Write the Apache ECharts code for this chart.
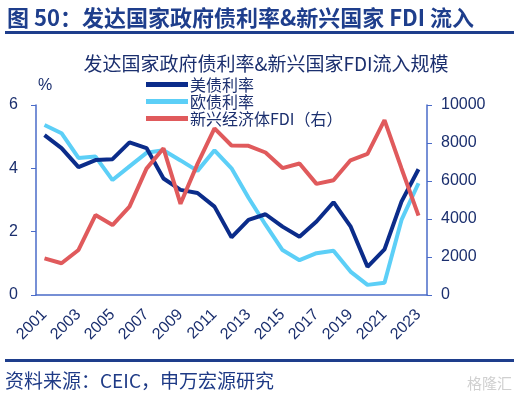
<!DOCTYPE html>
<html><head><meta charset="utf-8">
<script src="https://cdn.jsdelivr.net/npm/echarts@6/dist/echarts.min.js"></script>
<style>html,body{margin:0;padding:0;background:#fff}#c{width:520px;height:395px}</style>
</head><body><div id="c"></div>
<script>
const years = ['2001','2002','2003','2004','2005','2006','2007','2008','2009','2010','2011','2012','2013','2014','2015','2016','2017','2018','2019','2020','2021','2022','2023'];
const usYield = [5.05,4.64,4.04,4.26,4.29,4.82,4.64,3.68,3.32,3.22,2.79,1.82,2.37,2.55,2.16,1.84,2.32,2.93,2.17,0.89,1.44,2.95,3.97];
const euYield = [5.37,5.11,4.33,4.37,3.63,4.06,4.49,4.57,4.25,3.92,4.57,4.00,3.07,2.22,1.42,1.10,1.32,1.40,0.74,0.32,0.39,2.37,3.53];
const emFdi = [1930,1670,2370,4210,3680,4650,6650,7720,4800,6900,8770,7870,7850,7500,6680,6920,5850,6040,7090,7430,9200,6660,4180];
const leftTicks = [0,2,4,6];
const rightTicks = [0,2000,4000,6000,8000,10000];

const navy = '#1B2F6E';
const axisBlue = '#4A6BC8';
const ff = '"Liberation Sans","Noto Sans CJK SC",sans-serif';
const chart = echarts.init(document.getElementById('c'));
chart.setOption({
  animation: false,
  backgroundColor: '#fff',
  title: [
    {text: '图 50：发达国家政府债利率&新兴国家 FDI 流入', left: 2, top: 2,
     textStyle: {fontSize: 22, fontWeight: 'bold', color: '#1E3E8C', fontFamily: '"Noto Sans CJK SC",sans-serif'}},
    {text: '发达国家政府债利率&新兴国家FDI流入规模', left: 261, top: 49, textAlign: 'center',
     textStyle: {fontSize: 19, fontWeight: 'normal', color: navy, fontFamily: '"Noto Sans CJK SC",sans-serif'}},
    {text: '%', left: 33, top: 73, textStyle: {fontSize: 16, fontWeight: 'normal', color: navy, fontFamily: ff}},
    {text: '资料来源：CEIC，申万宏源研究', left: 0, top: 366,
     textStyle: {fontSize: 19, fontWeight: 'normal', color: '#1E3A86', fontFamily: '"Noto Sans CJK SC",sans-serif'}},
    {text: '格隆汇', left: 462, top: 371,
     textStyle: {fontSize: 15, fontWeight: 'normal', color: '#D0D0D0', fontFamily: '"Noto Sans CJK SC",sans-serif'}}
  ],
  graphic: [
    {type: 'rect', shape: {x: 5, y: 31, width: 509, height: 3}, style: {fill: '#1E3E8C'}},
    {type: 'rect', shape: {x: 5, y: 359, width: 509, height: 3}, style: {fill: '#1E3E8C'}}
  ],
  legend: {
    orient: 'vertical', left: 141, top: 71, itemGap: 0, itemWidth: 42, itemHeight: 5,
    icon: 'rect',
    textStyle: {fontSize: 16, color: navy, lineHeight: 17, padding: [0,0,0,-3], fontFamily: '"Noto Sans CJK SC",sans-serif'},
    data: ['美债利率','欧债利率','新兴经济体FDI（右）']
  },
  grid: {left: 36, right: 93, top: 105, bottom: 100},
  xAxis: {
    type: 'category', data: years, boundaryGap: true,
    axisLine: {lineStyle: {color: axisBlue, width: 1.5}},
    axisTick: {interval: 0, length: 5, lineStyle: {color: axisBlue}},
    axisLabel: {interval: 1, rotate: 45, fontSize: 16, color: navy, margin: 17, fontFamily: ff}
  },
  yAxis: [
    {type: 'value', min: leftTicks[0], max: leftTicks[leftTicks.length-1], interval: 2,
     splitLine: {show: false},
     axisLine: {show: true, lineStyle: {color: axisBlue, width: 1.5}},
     axisTick: {show: true, length: 5, lineStyle: {color: axisBlue}},
     axisLabel: {fontSize: 16, color: navy, margin: 18, fontFamily: ff}},
    {type: 'value', min: rightTicks[0], max: rightTicks[rightTicks.length-1], interval: 2000,
     splitLine: {show: false},
     axisLine: {show: true, lineStyle: {color: axisBlue, width: 1.5}},
     axisTick: {show: true, length: 5, lineStyle: {color: axisBlue}},
     axisLabel: {fontSize: 16, color: navy, margin: 14, fontFamily: ff, formatter: v => String(v)}}
  ],
  series: [
    {name: '美债利率', type: 'line', data: usYield, yAxisIndex: 0, symbol: 'none',
     lineStyle: {width: 4, color: '#0B2C8A'}, itemStyle: {color: '#0B2C8A'}, z: 3},
    {name: '欧债利率', type: 'line', data: euYield, yAxisIndex: 0, symbol: 'none',
     lineStyle: {width: 4, color: '#5CCFF7'}, itemStyle: {color: '#5CCFF7'}, z: 2},
    {name: '新兴经济体FDI（右）', type: 'line', data: emFdi, yAxisIndex: 1, symbol: 'none',
     lineStyle: {width: 4, color: '#E05A5C'}, itemStyle: {color: '#E05A5C'}, z: 4}
  ]
});
</script></body></html>
